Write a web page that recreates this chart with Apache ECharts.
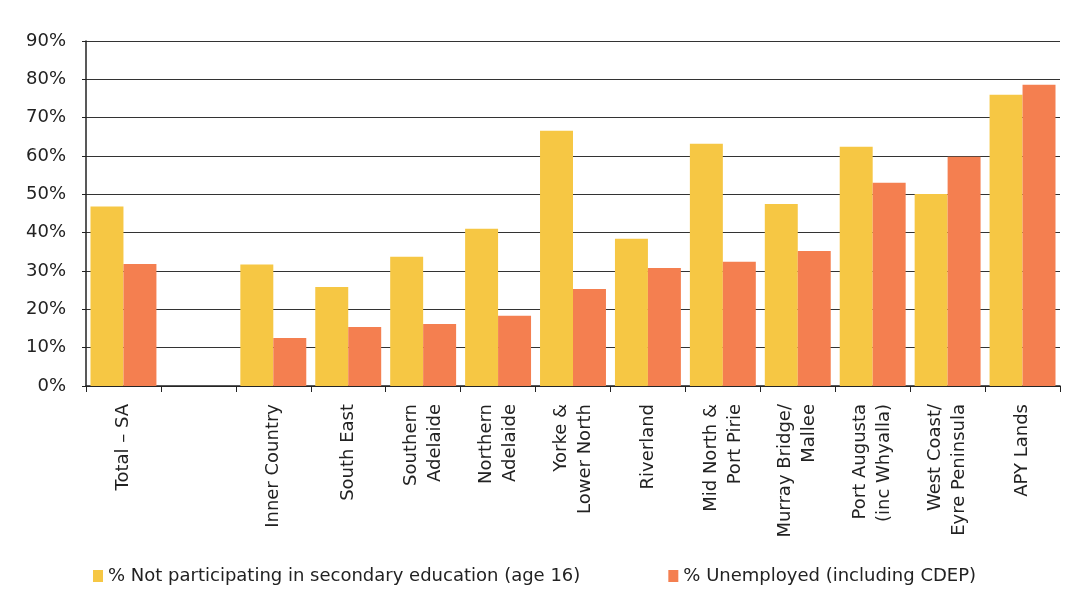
<!DOCTYPE html>
<html>
<head>
<meta charset="utf-8">
<script src="https://cdn.jsdelivr.net/npm/echarts@6/dist/echarts.min.js"></script>
<style>
  html, body { margin: 0; padding: 0; background: #fff; }
  #chart { width: 1076px; height: 601px; }
</style>
</head>
<body>
<div id="chart"></div>
<script>
// categories (the blank one is the spacer after the state total)
var regions = ["Total – SA", "", "Inner Country", "South East", "Southern\nAdelaide",
  "Northern\nAdelaide", "Yorke &\nLower North", "Riverland", "Mid North &\nPort Pirie",
  "Murray Bridge/\nMallee", "Port Augusta\n(inc Whyalla)", "West Coast/\nEyre Peninsula", "APY Lands"];
var notParticipating = [46.8, null, 31.7, 25.8, 33.7, 41.0, 66.6, 38.4, 63.2, 47.5, 62.4, 50.1, 76.0];
var unemployed = [31.8, null, 12.5, 15.4, 16.2, 18.3, 25.3, 30.8, 32.4, 35.2, 53.0, 59.8, 78.6];
var yTicks = [0, 10, 20, 30, 40, 50, 60, 70, 80, 90];

var font = "'DejaVu Sans', sans-serif";
var chart = echarts.init(document.getElementById("chart"));
var option = {
  animation: false,
  color: ["#F6C744", "#F47F50"],
  textStyle: { fontFamily: font },
  grid: { left: 86, right: 16, top: 41, bottom: 215 },
  legend: {
    bottom: 11,
    left: 88,
    itemWidth: 10,
    itemHeight: 12,
    itemGap: 88,
    icon: "rect",
    textStyle: { fontSize: 18, color: "#222", fontFamily: font },
    data: ["% Not participating in secondary education (age 16)", "% Unemployed (including CDEP)"]
  },
  xAxis: {
    type: "category",
    data: regions,
    axisLine: { lineStyle: { color: "#222", width: 1.5 } },
    axisTick: { show: true, length: 6, lineStyle: { color: "#222" } },
    axisLabel: {
      interval: 0,
      rotate: 90,
      margin: 18,
      fontSize: 18,
      lineHeight: 24,
      color: "#222"
    }
  },
  yAxis: {
    type: "value",
    min: yTicks[0],
    max: yTicks[yTicks.length - 1],
    interval: 10,
    axisLine: { show: true, lineStyle: { color: "#222", width: 1.5 } },
    axisTick: { show: true, length: 4, lineStyle: { color: "#222" } },
    axisLabel: {
      formatter: "{value}%",
      fontSize: 18,
      margin: 20,
      color: "#222"
    },
    splitLine: { lineStyle: { color: "#333", width: 1.2 } }
  },
  series: [
    {
      name: "% Not participating in secondary education (age 16)",
      type: "bar",
      data: notParticipating,
      barGap: "0%",
      barCategoryGap: "12%"
    },
    {
      name: "% Unemployed (including CDEP)",
      type: "bar",
      data: unemployed,
      barGap: "0%",
      barCategoryGap: "12%"
    }
  ]
};
chart.setOption(option);
</script>
</body>
</html>
